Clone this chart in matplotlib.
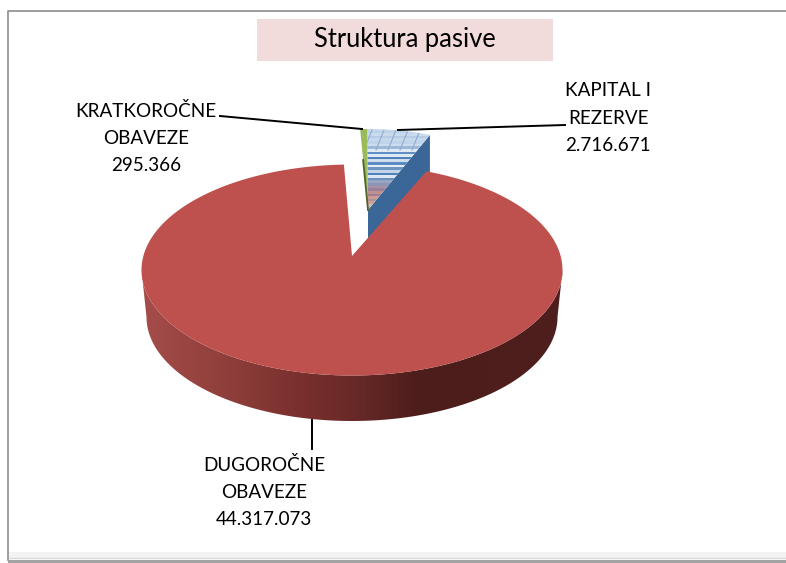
import numpy as np
import matplotlib
matplotlib.use('Agg')
import matplotlib.pyplot as plt
from matplotlib.patches import Polygon, Rectangle
from matplotlib.colors import LinearSegmentedColormap, to_rgb

# Data
labels = ['KAPITAL I\nREZERVE', 'KRATKOROČNE\nOBAVEZE', 'DUGOROČNE\nOBAVEZE']
value_text = ['2.716.671', '295.366', '44.317.073']
values = [2716671, 295366, 44317073]

plt.rcParams['font.family'] = ['Lato', 'DejaVu Sans']

# Slice angles from the values, counter-clockwise from the first slice
start_angle = 69.3
sweeps = 360 * np.array(values) / sum(values)
edges = start_angle + np.concatenate([[0], np.cumsum(sweeps)])


def arc(cx, cy, rx, ry, a0, a1, n=200):
    t = np.radians(np.linspace(a0, a1, n))
    return np.column_stack([cx + rx * np.cos(t), cy - ry * np.sin(t)])


fig = plt.figure(figsize=(7.86, 5.63), dpi=100)
ax = fig.add_axes([0, 0, 1, 1])
ax.set_xlim(0, 786)
ax.set_ylim(563, 0)
ax.axis('off')

# Outer frame
ax.plot([8, 8, 786], [560, 11, 11], color='#8c8c8c', lw=1.2)
ax.add_patch(Rectangle((9, 552), 777, 6, color='#f3f3f3', lw=0))
ax.plot([9, 786], [557.5, 557.5], color='#d8d8d8', lw=1)
ax.add_patch(Rectangle((8, 560), 778, 3, color='#a3a3a3', lw=0))

# Title
ax.add_patch(Rectangle((257, 19), 296, 42, color='#f2dcdb', lw=0))
ax.text(405, 40, 'Struktura pasive', ha='center', va='center', fontsize=18.4, color='black')

# Small slices (blue one and green one), drawn first because red covers them
cx2, cy2, rx2, ry2 = 367, 221, 178, 92
apex2 = np.array([368, 210])
depth2 = 38

p_blue = arc(cx2, cy2, rx2, ry2, edges[0], edges[1])
p_green = arc(cx2, cy2, rx2, ry2, edges[1], edges[2], 20)

# side of the blue slice
side = np.array([apex2, p_blue[0], p_blue[0] + [0, depth2], apex2 + [0, depth2]])
ax.add_patch(Polygon(side, color='#3b6798', lw=0, zorder=2))

# striped top of the blue slice
stripes = ['#c6d9ec', '#bcd2e8', '#c9dbed', '#b6cde5', '#c6d9ec', '#bfd4e9', '#cbdcee',
           '#9db9da', '#e0eaf4', '#5f8fc6', '#dfe9f4', '#4f81bd', '#cfdded', '#5b8bc3',
           '#e6eef6', '#6c94c2', '#c3d4e8', '#4f81bd', '#dde7f2', '#6c8fbf',
           '#98a6c2', '#8f93b5', '#a890a6', '#9a8098', '#c0918f', '#9a8094',
           '#d09c90', '#a893a0', '#cf9f92', '#c8bdb8', '#c49a90', '#a0adc4']
stripe_rgb = np.array([to_rgb(c) for c in stripes])[:, None, :]
top_poly = Polygon(np.vstack([[apex2], p_blue]), closed=True, fc='none', lw=0)
ax.add_patch(top_poly)
im = ax.imshow(stripe_rgb, extent=(360, 432, 212, 128), aspect='auto', zorder=3, interpolation='nearest')
im.set_clip_path(top_poly)

# faint diagonal lines over the stripes
for x0 in range(372, 432, 12):
    ln, = ax.plot([x0, x0 - 8], [130, 150], color='#8fabcf', lw=0.8, zorder=3.5)
    ln.set_clip_path(top_poly)

# green slice with its dark edge
ax.add_patch(Polygon(np.vstack([[apex2], p_green]), color='#9bbb59', lw=0, zorder=4))
ax.plot([p_green[-1][0] + 3, apex2[0]], [160, apex2[1]], color='#4f6228', lw=1.3, zorder=4)

# Big red slice
cx, cy, rx, ry = 352, 270, 210.5, 105.5
apex = np.array([352, 256])
p_red = arc(cx, cy, rx, ry, edges[2], edges[3])

# wall of the big slice, lower ellipse a bit narrower because of the perspective
front = arc(cx, cy, rx, ry, 180, 360)
back = arc(cx, 317, rx - 5, 104, 360, 180)
wall_poly = Polygon(np.vstack([front, back]), closed=True, fc='none', lw=0)
ax.add_patch(wall_poly)
wall_cmap = LinearSegmentedColormap.from_list('wall', [
    (0.0, '#a54d4a'), (0.1, '#9a4542'), (0.2, '#8f3f3b'), (0.37, '#7a302e'),
    (0.53, '#642826'), (0.65, '#4e1d1b'), (1.0, '#4d1f1d')])
im2 = ax.imshow(np.linspace(0, 1, 256)[None, :], extent=(cx - rx, cx + rx, 421, cy - ry),
                cmap=wall_cmap, aspect='auto', zorder=5)
im2.set_clip_path(wall_poly)

ax.add_patch(Polygon(np.vstack([[apex], p_red]), color='#be504d', lw=0, zorder=6))
ax.set_xlim(0, 786)
ax.set_ylim(563, 0)

# Leader lines
ax.plot([398, 565], [130, 125], color='black', lw=1.4, zorder=7)
ax.plot([220, 362], [116, 129], color='black', lw=1.4, zorder=7)
ax.plot([312, 312], [420, 449], color='black', lw=1.4, zorder=7)

# Labels
fs = 13.6
ax.text(608, 118, labels[0] + '\n' + value_text[0], ha='center', va='center',
        fontsize=fs, linespacing=1.72, color='black')
ax.text(146, 138, labels[1] + '\n' + value_text[1], ha='center', va='center',
        fontsize=fs, linespacing=1.72, color='black')
ax.text(264, 492, labels[2] + '\n' + value_text[2], ha='center', va='center',
        fontsize=fs, linespacing=1.72, color='black')

fig.savefig('out.png', dpi=100)
